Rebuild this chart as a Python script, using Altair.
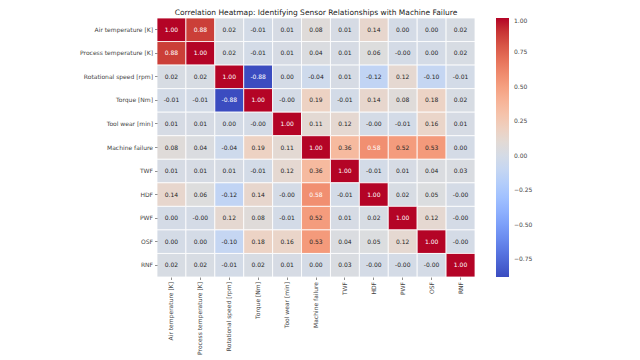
import altair as alt
import pandas as pd

features = ["Air temperature [K]", "Process temperature [K]", "Rotational speed [rpm]",
            "Torque [Nm]", "Tool wear [min]", "Machine failure", "TWF", "HDF", "PWF", "OSF", "RNF"]

row_air = [1.00, 0.88, 0.02, -0.01, 0.01, 0.08, 0.01, 0.14, 0.00, 0.00, 0.02]
row_proc = [0.88, 1.00, 0.02, -0.01, 0.01, 0.04, 0.01, 0.06, -0.0, 0.00, 0.02]
row_rot = [0.02, 0.02, 1.00, -0.88, 0.00, -0.04, 0.01, -0.12, 0.12, -0.10, -0.01]
row_torque = [-0.01, -0.01, -0.88, 1.00, -0.0, 0.19, -0.01, 0.14, 0.08, 0.18, 0.02]
row_wear = [0.01, 0.01, 0.00, -0.0, 1.00, 0.11, 0.12, -0.0, -0.01, 0.16, 0.01]
row_mf = [0.08, 0.04, -0.04, 0.19, 0.11, 1.00, 0.36, 0.58, 0.52, 0.53, 0.00]
row_twf = [0.01, 0.01, 0.01, -0.01, 0.12, 0.36, 1.00, -0.01, 0.01, 0.04, 0.03]
row_hdf = [0.14, 0.06, -0.12, 0.14, -0.0, 0.58, -0.01, 1.00, 0.02, 0.05, -0.0]
row_pwf = [0.00, -0.0, 0.12, 0.08, -0.01, 0.52, 0.01, 0.02, 1.00, 0.12, -0.0]
row_osf = [0.00, 0.00, -0.10, 0.18, 0.16, 0.53, 0.04, 0.05, 0.12, 1.00, -0.0]
row_rnf = [0.02, 0.02, -0.01, 0.02, 0.01, 0.00, 0.03, -0.0, -0.0, -0.0, 1.00]

matrix = [row_air, row_proc, row_rot, row_torque, row_wear, row_mf,
          row_twf, row_hdf, row_pwf, row_osf, row_rnf]

legend_ticks = [1.0, 0.75, 0.5, 0.25, 0.0, -0.25, -0.5, -0.75]

records = []
for i, rname in enumerate(features):
    for j, cname in enumerate(features):
        v = matrix[i][j]
        records.append({"row": rname, "col": cname, "value": v, "label": f"{v:.2f}"})
df = pd.DataFrame(records)

# coolwarm (Moreland) color stops
cw = ["#3b4cc0", "#4d68d7", "#6282ea", "#779af7", "#8db0fe", "#a3c2ff", "#b8d0f9",
      "#ccd9ee", "#dddddd", "#ecd3c5", "#f5c4ac", "#f7b194", "#f49a7b", "#ec7f63",
      "#de604d", "#cb3e38", "#b40426"]
vmin, vmax = -0.878, 1.0
dom = [vmin + k * (vmax - vmin) / (len(cw) - 1) for k in range(len(cw))]

font = "DejaVu Sans"

base = alt.Chart(df).encode(
    x=alt.X("col:N", sort=features, title=None,
            axis=alt.Axis(labelAngle=-90, labelFontSize=6, labelFont=font, labelColor="#444444",
                          tickSize=2.5, tickColor="#444444", tickWidth=0.6, domain=False,
                          labelPadding=2)),
    y=alt.Y("row:N", sort=features, title=None,
            axis=alt.Axis(labelFontSize=6, labelFont=font, labelColor="#444444",
                          tickSize=2.5, tickColor="#444444", tickWidth=0.6, domain=False,
                          labelPadding=2)),
)

rects = base.mark_rect(stroke="white", strokeWidth=0.8).encode(
    color=alt.Color("value:Q",
                    scale=alt.Scale(domain=dom, range=cw, interpolate="rgb"),
                    legend=alt.Legend(title=None, orient="right", offset=21,
                                      gradientLength=259, gradientThickness=13,
                                      values=legend_ticks, format=".2f",
                                      labelFontSize=6, labelFont=font, labelColor="#444444",
                                      labelOffset=5, labelOverlap=False,
                                      gradientStrokeWidth=0))
)

texts = base.mark_text(fontSize=6, font=font).encode(
    text="label:N",
    color=alt.condition("abs(datum.value) > 0.55", alt.value("#ffffff"), alt.value("#262626")),
)

chart = alt.layer(rects, texts).properties(
    width=318, height=259,
    title=alt.TitleParams("Correlation Heatmap: Identifying Sensor Relationships with Machine Failure",
                          fontSize=7.5, font=font, fontWeight="normal", color="#222222",
                          anchor="middle", offset=1.5),
    autosize=alt.AutoSizeParams(type="none"),
    padding={"left": 149, "top": 10, "right": 110, "bottom": 80},
).configure_view(strokeWidth=0).configure_axis(grid=False)

chart.save("out.html", embed_options={"renderer": "svg", "actions": False})
